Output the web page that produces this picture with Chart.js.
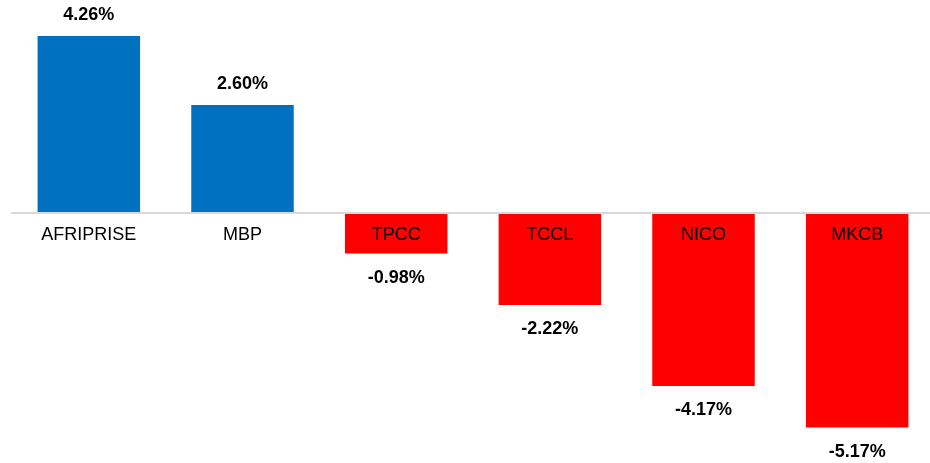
<!DOCTYPE html>
<html>
<head>
<meta charset="utf-8">
<script src="https://cdn.jsdelivr.net/npm/chart.js@4"></script>
<style>
    html, body { margin: 0; padding: 0; background: #fff; overflow: hidden; }
    #wrap { width: 935px; height: 463px; position: relative; }
</style>
</head>
<body>
<div id="wrap"><canvas id="myChart"></canvas></div>
<script>
let names = ['AFRIPRISE', 'MBP', 'TPCC', 'TCCL', 'NICO', 'MKCB'];
let change = [4.26, 2.60, -0.98, -2.22, -4.17, -5.17];
let colors = change.map(v => v >= 0 ? '#0070C0' : '#FF0000');

let ctx = document.getElementById('myChart').getContext('2d');

// value labels above / below the bars
let valueLabels = {
    id: 'valueLabels',
    afterDatasetsDraw(chart) {
        let c = chart.ctx;
        let meta = chart.getDatasetMeta(0);
        c.save();
        c.font = 'bold 18px Arial, "Liberation Sans", sans-serif';
        c.fillStyle = '#000';
        c.textAlign = 'center';
        c.textBaseline = 'middle';
        meta.data.forEach((bar, i) => {
            let v = change[i];
            let y = v >= 0 ? bar.y - 21 : bar.y + 24;
            c.fillText(v.toFixed(2) + '%', bar.x, y);
        });
        c.restore();
    }
};

let myChart = new Chart(ctx, {
    type: 'bar',
    data: {
        labels: names,
        datasets: [{
            data: change,
            backgroundColor: colors,
            borderWidth: 0,
            barPercentage: 0.667,
            categoryPercentage: 1
        }]
    },
    options: {
        responsive: true,
        maintainAspectRatio: false,
        animation: false,
        layout: { padding: { left: 12, right: 1, top: 0, bottom: 1 } },
        plugins: {
            legend: { display: false },
            tooltip: { enabled: false }
        },
        scales: {
            x: {
                position: { y: 0 },
                grid: { display: false, drawTicks: false },
                border: { display: true, color: '#D9D9D9', width: 2, z: 1 },
                ticks: {
                    z: 1,
                    color: '#000',
                    padding: 11,
                    maxRotation: 0,
                    font: { family: 'Arial, "Liberation Sans", sans-serif', size: 18 }
                }
            },
            y: {
                display: false,
                min: -6,
                max: 5.13
            }
        }
    },
    plugins: [valueLabels]
});
</script>
</body>
</html>
